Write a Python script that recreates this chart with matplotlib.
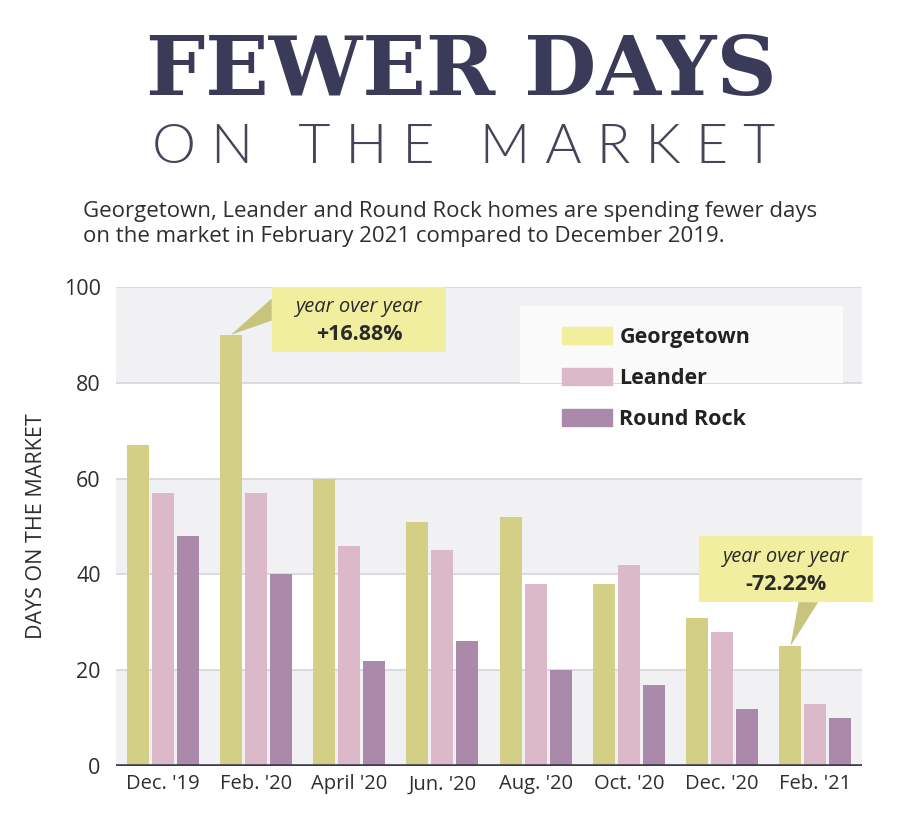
import numpy as np
import matplotlib
matplotlib.use("Agg")
from matplotlib import pyplot as plt
from matplotlib.patches import Patch, Rectangle, Polygon

# data
months = ["Dec. '19", "Feb. '20", "April '20", "Jun. '20", "Aug. '20", "Oct. '20", "Dec. '20", "Feb. '21"]
georgetown = [67, 90, 60, 51, 52, 38, 31, 25]
leander = [57, 57, 46, 45, 38, 42, 28, 13]
round_rock = [48, 40, 22, 26, 20, 17, 12, 10]
series_names = ["Georgetown", "Leander", "Round Rock"]
yoy_labels = ["+16.88%", "-72.22%"]

c_geo = "#d4cf86"
c_lea = "#dcb9c9"
c_rr = "#ab89ab"
c_geo_legend = "#f1ee9d"
c_box = "#f2ee9f"
c_pointer = "#c9c47d"
navy = "#3b3a58"
txt = "#2e2e2e"
body_font = ["Open Sans", "DejaVu Sans"]

plt.rcParams["font.family"] = body_font

fig = plt.figure(figsize=(9, 8.33), dpi=100)
ax = fig.add_axes([116 / 900, 1 - 766 / 833, 746 / 900, 479 / 833])

x = np.arange(len(months))
w = 0.236
step = 0.268
ax.bar(x - step, georgetown, w, color=c_geo, zorder=3)
ax.bar(x, leander, w, color=c_lea, zorder=3)
ax.bar(x + step, round_rock, w, color=c_rr, zorder=3)

ax.set_xlim(-0.5, len(months) - 0.5)
ax.set_ylim(0, 100)

# alternating bands + grid
for lo in (0, 40, 80):
    ax.axhspan(lo, lo + 20, color="#f1f1f3", zorder=0, lw=0)
for g in (20, 40, 60, 80, 100):
    ax.axhline(g, color="#d6d6da", lw=1.2, zorder=1)
ax.axhline(0, color="#3e3a55", lw=2.6, zorder=4)

# lighter panel behind the legend
ax.add_patch(Rectangle((0.5416, 0.80), 0.433, 0.16, transform=ax.transAxes,
                       facecolor="#fafafa", edgecolor="none", zorder=1.5))

for s in ax.spines.values():
    s.set_visible(False)
ax.set_xticks(x)
ax.set_xticklabels(months, color=txt)
ax.set_yticks([0, 20, 40, 60, 80, 100])
ax.tick_params(axis="both", length=0, labelcolor=txt)
ax.tick_params(axis="x", pad=6, labelsize=14.5)
ax.tick_params(axis="y", pad=11, labelsize=15.5)
ax.set_ylabel("DAYS ON THE MARKET", fontsize=15.5, color=txt, labelpad=12)

handles = [Patch(color=c_geo_legend), Patch(color=c_lea), Patch(color=c_rr)]
leg = ax.legend(handles, series_names, loc="upper left",
                bbox_to_anchor=(562 / 900, 1 - 327 / 833), bbox_transform=fig.transFigure,
                frameon=False, borderpad=0, borderaxespad=0, handlelength=2.33,
                handleheight=0.84, handletextpad=0.33, labelspacing=0.93,
                prop={"size": 15.5, "weight": "bold", "family": body_font})
for t in leg.get_texts():
    t.set_color("#222222")
leg.set_zorder(5)

# year-over-year callouts
def callout(i, x0, x1, y0, y1, base, label):
    apex = (i - step, georgetown[i])
    ax.add_patch(Polygon([apex, base[0], base[1]], closed=True, facecolor=c_pointer,
                         edgecolor="none", zorder=5, clip_on=False))
    ax.add_patch(Rectangle((x0, y0), x1 - x0, y1 - y0, facecolor=c_box,
                           edgecolor="none", zorder=6, clip_on=False))
    cx = (x0 + x1) / 2
    ax.text(cx, y1 - (y1 - y0) * 0.31, "year over year", ha="center", va="center",
            fontsize=14.5, style="italic", color="#2a2a2a", zorder=7)
    ax.text(cx, y0 + (y1 - y0) * 0.27, label, ha="center", va="center",
            fontsize=15.5, weight="bold", color="#2a2a2a", zorder=7)

callout(1, 1.17, 3.04, 86.4, 100, [(1.17, 97.6), (1.17, 93.0)], yoy_labels[0])
callout(7, 5.75, 7.62, 34.2, 48.0, [(6.82, 34.2), (7.03, 34.2)], yoy_labels[1])

# titles
fig.text(0.513, 1 - 72 / 833, "FEWER DAYS", ha="center", va="center",
         fontsize=60, weight="bold", family=["DejaVu Serif"], color=navy)
fig.text(0.515, 1 - 148 / 833, "O N   T H E   M A R K E T", ha="center", va="center",
         fontsize=40, weight=300, family=["Lato", "Roboto", "DejaVu Sans"], color="#45445a")
fig.text(83 / 900, 1 - 224 / 833,
         "Georgetown, Leander and Round Rock homes are spending fewer days\n"
         "on the market in February 2021 compared to December 2019.",
         ha="left", va="center", fontsize=16, color=txt, linespacing=1.3)

fig.savefig("out.png", dpi=100, facecolor="white")
